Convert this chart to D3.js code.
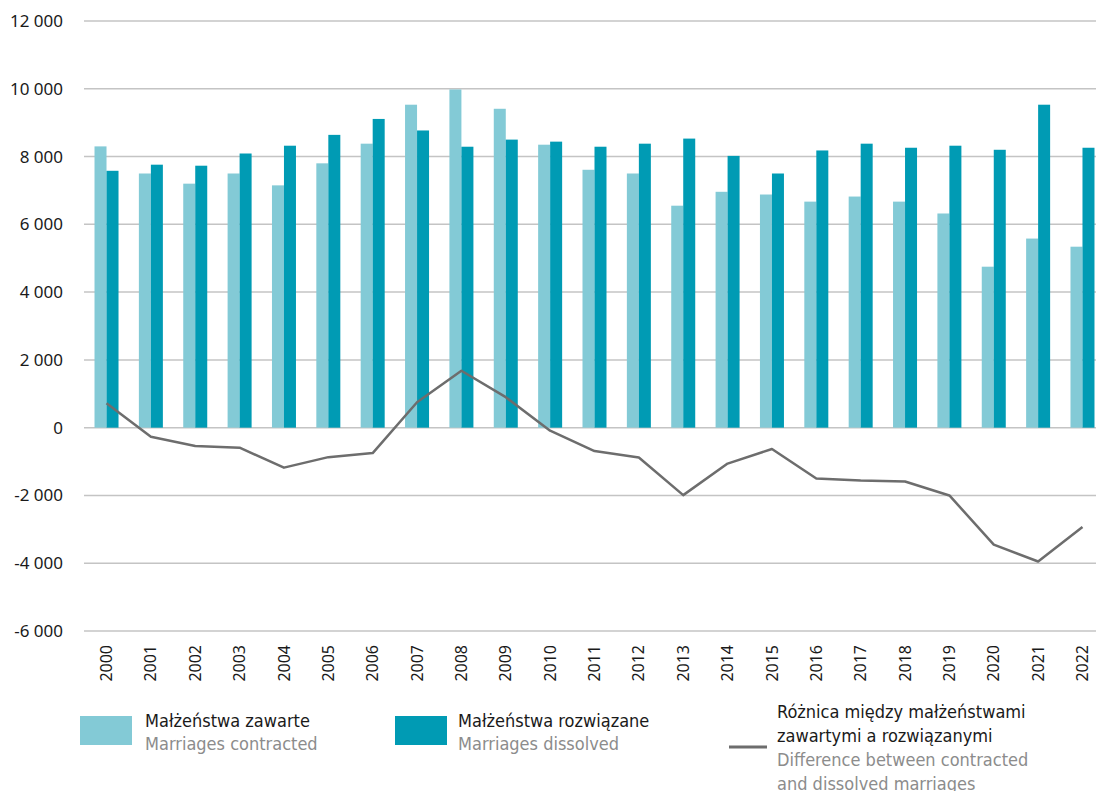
<!DOCTYPE html>
<html>
<head>
<meta charset="utf-8">
<script src="https://cdn.jsdelivr.net/npm/d3@7"></script>
<style>
  html, body { margin: 0; padding: 0; background: #fff; }
  svg { display: block; }
  .tick-y { font-family: "Noto Sans", "Open Sans", sans-serif; font-size: 17px; fill: #1a1a1a; }
  .tick-x { font-family: "Noto Sans", "Open Sans", sans-serif; font-size: 16px; fill: #1a1a1a; }
  .leg { font-family: "Liberation Sans Narrow", "DejaVu Sans Condensed", sans-serif; font-size: 18px; }
</style>
</head>
<body>
<svg id="chart" width="1096" height="791"></svg>
<script>
const years = ["2000","2001","2002","2003","2004","2005","2006","2007","2008","2009","2010","2011",
               "2012","2013","2014","2015","2016","2017","2018","2019","2020","2021","2022"];
const contracted = [8300, 7500, 7200, 7500, 7150, 7800, 8380, 9530, 9980, 9410, 8350, 7610,
                    7500, 6550, 6960, 6880, 6670, 6820, 6670, 6320, 4750, 5580, 5340];
const dissolved  = [7580, 7760, 7730, 8090, 8320, 8640, 9110, 8770, 8290, 8500, 8440, 8290,
                    8380, 8530, 8020, 7500, 8180, 8380, 8260, 8320, 8200, 9530, 8260];
const difference = [720, -270, -540, -590, -1180, -870, -750, 750, 1680, 900, -90, -690,
                    -880, -1990, -1060, -630, -1500, -1560, -1590, -2000, -3450, -3950, -2930];
const yTicks = [-6000, -4000, -2000, 0, 2000, 4000, 6000, 8000, 10000, 12000];

const svg = d3.select("#chart");
const W = 1096;
const left = 84;

const x = d3.scaleBand().domain(years).range([left, 1105]).paddingInner(0.459).paddingOuter(0.237);
const x2 = d3.scaleBand().domain(["c","d"]).range([0, x.bandwidth()]);
const y = d3.scaleLinear().domain([-6000, 12000]).range([631, 21]);

const fmt = v => {
  const s = d3.format(",")(Math.abs(v)).replace(/,/g, "\u2009");
  return (v < 0 ? "-" : "") + s.replace(/\u2009/g, " ");
};

// gridlines
svg.append("g").selectAll("line").data(yTicks).join("line")
  .attr("x1", left).attr("x2", W)
  .attr("y1", d => y(d)).attr("y2", d => y(d))
  .attr("stroke", "#c4c4c4").attr("stroke-width", 1.5);

// y labels
svg.append("g").selectAll("text").data(yTicks).join("text")
  .attr("class", "tick-y")
  .attr("x", 63).attr("y", d => y(d)).attr("dy", "0.35em")
  .attr("text-anchor", "end")
  .text(d => fmt(d));

// bars
const bars = svg.append("g");
bars.selectAll("rect.c").data(years).join("rect").attr("class", "c")
  .attr("x", d => x(d) + x2("c")).attr("width", x2.bandwidth())
  .attr("y", (d, i) => y(contracted[i])).attr("height", (d, i) => y(0) - y(contracted[i]))
  .attr("fill", "#83cad6");
bars.selectAll("rect.d").data(years).join("rect").attr("class", "d")
  .attr("x", d => x(d) + x2("d")).attr("width", x2.bandwidth())
  .attr("y", (d, i) => y(dissolved[i])).attr("height", (d, i) => y(0) - y(dissolved[i]))
  .attr("fill", "#009bb4");

// line
const line = d3.line().x(d => x(d.yr) + x.bandwidth() / 2).y(d => y(d.v));
svg.append("path")
  .datum(years.map((yr, i) => ({ yr, v: difference[i] })))
  .attr("d", line).attr("fill", "none")
  .attr("stroke", "#6d6d6d").attr("stroke-width", 2.5).attr("stroke-linejoin", "round");

// x labels
svg.append("g").selectAll("text").data(years).join("text")
  .attr("class", "tick-x")
  .attr("transform", d => `translate(${x(d) + x.bandwidth() / 2},645) rotate(-90)`)
  .attr("dy", "0.35em")
  .attr("text-anchor", "end")
  .text(d => d);

// legend
const lg = svg.append("g");
lg.append("rect").attr("x", 80).attr("y", 716).attr("width", 52).attr("height", 29).attr("fill", "#83cad6");
lg.append("text").attr("class", "leg").attr("x", 145).attr("y", 727).attr("fill", "#1a1a1a").text("Małżeństwa zawarte");
lg.append("text").attr("class", "leg").attr("x", 145).attr("y", 750).attr("fill", "#8c8c8c").text("Marriages contracted");

lg.append("rect").attr("x", 395).attr("y", 716).attr("width", 52).attr("height", 29).attr("fill", "#009bb4");
lg.append("text").attr("class", "leg").attr("x", 458).attr("y", 727).attr("fill", "#1a1a1a").text("Małżeństwa rozwiązane");
lg.append("text").attr("class", "leg").attr("x", 458).attr("y", 750).attr("fill", "#8c8c8c").text("Marriages dissolved");

lg.append("line").attr("x1", 729).attr("x2", 767).attr("y1", 747).attr("y2", 747)
  .attr("stroke", "#6d6d6d").attr("stroke-width", 3);
const l3 = [["Różnica między małżeństwami", "#1a1a1a", 718],
            ["zawartymi a rozwiązanymi", "#1a1a1a", 742],
            ["Difference between contracted", "#8c8c8c", 766],
            ["and dissolved marriages", "#8c8c8c", 790]];
lg.selectAll("text.l3").data(l3).join("text").attr("class", "leg l3")
  .attr("x", 777).attr("y", d => d[2]).attr("fill", d => d[1]).text(d => d[0]);
</script>
</body>
</html>
